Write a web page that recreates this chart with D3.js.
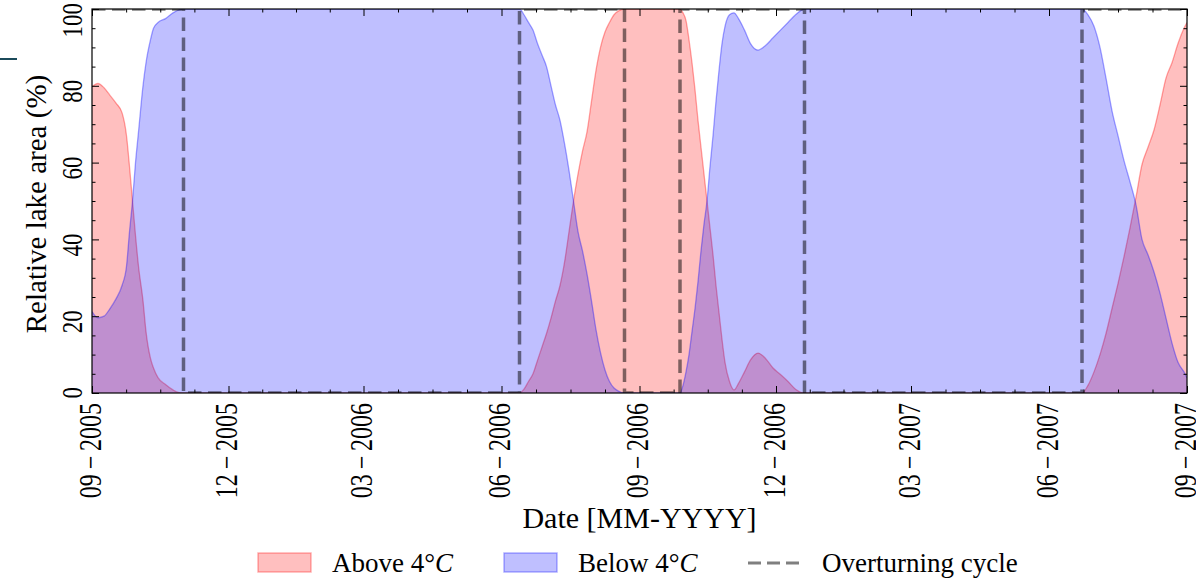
<!DOCTYPE html>
<html>
<head>
<meta charset="utf-8">
<script src="https://cdn.jsdelivr.net/npm/d3@7"></script>
<style>
  body { margin: 0; background: #fff; }
  text { font-family: "Liberation Serif", "DejaVu Serif", serif; fill: #000; }
</style>
</head>
<body>
<div id="chart"></div>
<script>
const width = 1196;
const height = 579;
const margin = { top: 9, right: 9, bottom: 186, left: 92 };

// Data (% of lake area)
const dates = [
  "2005-09-01", "2005-09-05", "2005-09-09", "2005-09-13", "2005-09-17", "2005-09-21",
  "2005-09-24", "2005-09-26", "2005-09-28", "2005-09-30", "2005-10-02", "2005-10-05",
  "2005-10-07", "2005-10-10", "2005-10-12", "2005-10-15", "2005-10-20", "2005-10-25",
  "2005-10-29", "2005-11-01",
  "2006-06-13", "2006-06-16", "2006-06-19", "2006-06-22", "2006-06-25", "2006-06-28",
  "2006-07-01", "2006-07-04", "2006-07-07", "2006-07-10", "2006-07-13", "2006-07-16",
  "2006-07-19", "2006-07-22", "2006-07-25", "2006-07-28", "2006-07-31", "2006-08-03",
  "2006-08-06", "2006-08-09", "2006-08-12", "2006-08-15", "2006-08-18", "2006-08-22",
  "2006-09-28", "2006-09-30", "2006-10-02", "2006-10-04", "2006-10-06", "2006-10-08",
  "2006-10-10", "2006-10-12", "2006-10-14", "2006-10-16", "2006-10-18", "2006-10-20",
  "2006-10-22", "2006-10-24", "2006-10-26", "2006-10-28", "2006-10-31", "2006-11-03",
  "2006-11-06", "2006-11-10", "2006-11-14", "2006-11-19", "2006-11-24", "2006-11-29",
  "2006-12-04", "2006-12-09", "2006-12-14", "2006-12-20",
  "2007-06-23", "2007-06-27", "2007-07-01", "2007-07-05", "2007-07-09", "2007-07-13",
  "2007-07-17", "2007-07-21", "2007-07-25", "2007-07-29", "2007-08-02", "2007-08-06",
  "2007-08-10", "2007-08-14", "2007-08-18", "2007-08-22", "2007-08-26", "2007-08-30",
  "2007-09-01"
];

const above = [
  79.8, 80.6, 79.5, 77.5, 75.5, 73,
  67, 59, 50, 41, 33, 24,
  16, 9, 6.5, 4, 2.2, 0.8,
  0.1, 0,
  0, 1, 3, 5, 8.5, 12,
  15.5, 19.5, 24, 28, 34, 42,
  50, 57, 63, 68, 76, 84,
  90, 94, 96.5, 98.5, 99.5, 100,
  100, 99, 97, 92, 86, 79,
  71, 64, 57, 50, 43, 36,
  28, 21, 14, 8, 3, 0.8,
  2.5, 5.5, 8.6, 10.4, 9, 6.5,
  4.8, 3, 1, 0,
  0, 2, 5.5, 10, 15.5, 22,
  28.5, 35.5, 43, 51, 59.5, 64,
  68.5, 75, 82, 86, 91, 95,
  96.5
];

const below = [
  21.2, 19.6, 20, 22, 24.5, 28,
  33, 42, 50, 60, 68, 80,
  86, 92, 95, 96.5, 97.5, 99,
  99.8, 100,
  100, 98.5, 96.5, 94.5, 91, 88,
  85, 80, 75, 71, 65, 58,
  50, 42, 37, 31, 24, 16.5,
  10.5, 6, 3, 1.3, 0.5, 0,
  0, 2, 5.5, 10, 16, 22,
  29, 37, 44, 50, 59, 67,
  76, 84, 91, 95.5, 98.5, 99,
  97.5, 94.5, 91, 89.3, 90.5, 92.5,
  94.5, 96.5, 98.5, 100,
  100, 98.5, 95.5, 90, 82, 73.5,
  67, 60.5, 55, 49, 40, 36,
  31.5, 26, 19.5, 13, 8, 5.5,
  4
];

// Overturning cycle: step between full and empty
const overturnDates = ["2005-09-01", "2005-11-01", "2006-06-13", "2006-08-22", "2006-09-28", "2006-12-20", "2007-06-23", "2007-09-01"];
const overturnLevels = [100, 0, 100, 0, 100, 0, 100, 100];

const xTickDates = ["2005-09-01", "2005-12-01", "2006-03-01", "2006-06-01", "2006-09-01", "2006-12-01", "2007-03-01", "2007-06-01", "2007-09-01"];
const yTicks = [0, 20, 40, 60, 80, 100];

const parse = d3.timeParse("%Y-%m-%d");
const fmt = d3.timeFormat("%m");
const fmtY = d3.timeFormat("%Y");

const rows = dates.map((d, i) => ({ date: parse(d), above: above[i], below: below[i] }));
const steps = overturnDates.map((d, i) => ({ date: parse(d), v: overturnLevels[i] }));
const majorX = xTickDates.map(parse);

const svg = d3.select("#chart")
  .append("svg")
  .attr("width", width)
  .attr("height", height);

const x = d3.scaleTime()
  .domain([parse("2005-09-01"), parse("2007-09-01")])
  .range([margin.left, width - margin.right]);

const y = d3.scaleLinear()
  .domain([0, 100])
  .range([height - margin.bottom, margin.top]);

// minor ticks: 4 per major interval on x, every 5 on y
const minorX = [];
for (let i = 0; i < majorX.length - 1; i++) {
  const a = +majorX[i], b = +majorX[i + 1];
  for (let k = 1; k < 4; k++) minorX.push(new Date(a + (b - a) * k / 4));
}
const minorY = d3.range(0, 101, 5).filter(v => v % 20 !== 0);

svg.append("clipPath").attr("id", "plot")
  .append("rect")
  .attr("x", x.range()[0]).attr("y", y.range()[1])
  .attr("width", x.range()[1] - x.range()[0])
  .attr("height", y.range()[0] - y.range()[1]);

const g = svg.append("g").attr("clip-path", "url(#plot)");

const curve = d3.curveMonotoneX;

// Above 4°C
g.append("path")
  .datum(rows)
  .attr("fill", "rgba(255,0,0,0.25)")
  .attr("d", d3.area().curve(curve).x(d => x(d.date)).y0(y(0)).y1(d => y(d.above)));
g.append("path")
  .datum(rows)
  .attr("fill", "none")
  .attr("stroke", "rgba(255,0,0,0.35)")
  .attr("stroke-width", 1.3)
  .attr("d", d3.line().curve(curve).x(d => x(d.date)).y(d => y(d.above)));

// Below 4°C
g.append("path")
  .datum(rows)
  .attr("fill", "rgba(0,0,255,0.25)")
  .attr("d", d3.area().curve(curve).x(d => x(d.date)).y0(y(0)).y1(d => y(d.below)));
g.append("path")
  .datum(rows)
  .attr("fill", "none")
  .attr("stroke", "rgba(0,0,255,0.35)")
  .attr("stroke-width", 1.3)
  .attr("d", d3.line().curve(curve).x(d => x(d.date)).y(d => y(d.below)));

// Overturning cycle
g.append("path")
  .datum(steps)
  .attr("fill", "none")
  .attr("stroke", "#000")
  .attr("stroke-opacity", 0.5)
  .attr("stroke-width", 3.5)
  .attr("stroke-dasharray", "13.5,6.5")
  .attr("d", d3.line().curve(d3.curveStepAfter).x(d => x(d.date)).y(d => y(d.v)));

// Axes — ticks pointing inward on all four sides
const xLabel = d => `${fmt(d)}\u2009\u2212\u2009${fmtY(d)}`;

const gx = svg.append("g")
  .attr("transform", `translate(0, ${y(0)})`)
  .call(d3.axisBottom(x).tickValues(majorX).tickSize(-7).tickSizeOuter(0).tickFormat(xLabel));
gx.selectAll("text")
  .attr("transform", "rotate(-90) scale(1, 1.3)")
  .attr("x", -10).attr("y", 0).attr("dy", "0.27em")
  .attr("text-anchor", "end")
  .style("font-size", "24px");

svg.append("g")
  .attr("transform", `translate(0, ${y(0)})`)
  .call(d3.axisBottom(x).tickValues(minorX).tickSize(-3.5).tickSizeOuter(0).tickFormat(""));

svg.append("g")
  .attr("transform", `translate(0, ${y(100)})`)
  .call(d3.axisTop(x).tickValues(majorX).tickSize(-7).tickSizeOuter(0).tickFormat(""));
svg.append("g")
  .attr("transform", `translate(0, ${y(100)})`)
  .call(d3.axisTop(x).tickValues(minorX).tickSize(-3.5).tickSizeOuter(0).tickFormat(""));

const gy = svg.append("g")
  .attr("transform", `translate(${x.range()[0]}, 0)`)
  .call(d3.axisLeft(y).tickValues(yTicks).tickSize(-7).tickSizeOuter(0));
gy.selectAll("text")
  .attr("transform", "rotate(-90) scale(1, 1.3)")
  .attr("x", 6.5).attr("y", -7.5).attr("dy", 0)
  .attr("text-anchor", "end")
  .style("font-size", "23px");

svg.append("g")
  .attr("transform", `translate(${x.range()[0]}, 0)`)
  .call(d3.axisLeft(y).tickValues(minorY).tickSize(-3.5).tickSizeOuter(0).tickFormat(""));

svg.append("g")
  .attr("transform", `translate(${x.range()[1]}, 0)`)
  .call(d3.axisRight(y).tickValues(yTicks).tickSize(-7).tickSizeOuter(0).tickFormat(""));
svg.append("g")
  .attr("transform", `translate(${x.range()[1]}, 0)`)
  .call(d3.axisRight(y).tickValues(minorY).tickSize(-3.5).tickSizeOuter(0).tickFormat(""));

svg.selectAll(".domain").remove();
svg.selectAll(".tick line").attr("stroke", "#000").attr("stroke-width", 1);

// frame
svg.append("rect")
  .attr("x", x.range()[0]).attr("y", y.range()[1])
  .attr("width", x.range()[1] - x.range()[0])
  .attr("height", y.range()[0] - y.range()[1])
  .attr("fill", "none")
  .attr("stroke", "#000")
  .attr("stroke-width", 1.2);

// axis titles
svg.append("text")
  .attr("x", (x.range()[0] + x.range()[1]) / 2)
  .attr("y", 528)
  .attr("text-anchor", "middle")
  .style("font-size", "30px")
  .text("Date [MM-YYYY]");

svg.append("text")
  .attr("transform", `translate(46, ${(y.range()[0] + y.range()[1]) / 2 + 3}) rotate(-90)`)
  .attr("text-anchor", "middle")
  .style("font-size", "29px")
  .text("Relative lake area (%)");

// legend
const legend = svg.append("g").style("font-size", "27px");

legend.append("rect")
  .attr("x", 258).attr("y", 553).attr("width", 53).attr("height", 19)
  .attr("fill", "rgba(255,0,0,0.25)").attr("stroke", "rgba(255,0,0,0.3)").attr("stroke-width", 1.5);
const t1 = legend.append("text").attr("x", 332).attr("y", 572);
t1.append("tspan").text("Above 4°");
t1.append("tspan").style("font-style", "italic").text("C");

legend.append("rect")
  .attr("x", 504).attr("y", 553).attr("width", 53).attr("height", 19)
  .attr("fill", "rgba(0,0,255,0.25)").attr("stroke", "rgba(0,0,255,0.3)").attr("stroke-width", 1.5);
const t2 = legend.append("text").attr("x", 578).attr("y", 572);
t2.append("tspan").text("Below 4°");
t2.append("tspan").style("font-style", "italic").text("C");

legend.append("line")
  .attr("x1", 748).attr("x2", 803).attr("y1", 563).attr("y2", 563)
  .attr("stroke", "#000").attr("stroke-opacity", 0.5)
  .attr("stroke-width", 3).attr("stroke-dasharray", "13,6");
legend.append("text").attr("x", 822).attr("y", 572).text("Overturning cycle");

// small stray mark at the left edge
svg.append("line")
  .attr("x1", 0).attr("x2", 17).attr("y1", 59).attr("y2", 59)
  .attr("stroke", "#1b4a5a").attr("stroke-width", 2);
</script>
</body>
</html>
